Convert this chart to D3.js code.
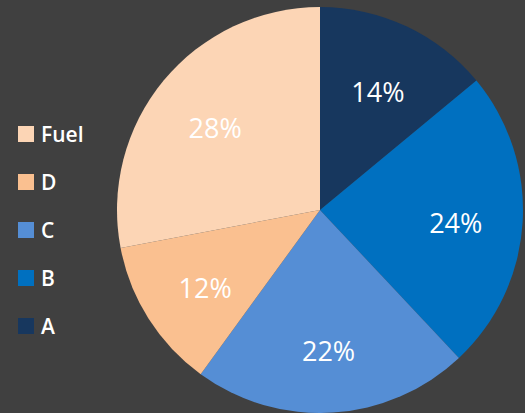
<!DOCTYPE html>
<html><head><meta charset="utf-8">
<script src="https://cdn.jsdelivr.net/npm/d3@7/dist/d3.min.js"></script>
<style>html,body{margin:0;padding:0;background:#404040;}svg{display:block;}</style>
</head><body>
<script>
const categories = ["A", "B", "C", "D", "Fuel"];
const values = [14, 24, 22, 12, 28];
const colors = ["#17375E", "#0070C0", "#558ED5", "#FAC090", "#FCD5B5"];
const legendOrder = ["Fuel", "D", "C", "B", "A"];

const W = 525, H = 413;
const svg = d3.select("body").append("svg").attr("width", W).attr("height", H);
svg.append("rect").attr("width", W).attr("height", H).attr("fill", "#404040");

const cx = 320, cy = 210, R = 203;
const color = d3.scaleOrdinal().domain(categories).range(colors);
const pie = d3.pie().sort(null).value(d => d.v);
const data = categories.map((c, i) => ({c, v: values[i]}));
const arcs = pie(data);
const arc = d3.arc().innerRadius(0).outerRadius(R);
const labelArc = d3.arc().innerRadius(R * 0.67).outerRadius(R * 0.67);

const g = svg.append("g").attr("transform", `translate(${cx},${cy})`);
g.selectAll("path").data(arcs).join("path")
  .attr("d", arc).attr("fill", d => color(d.data.c));
const total = d3.sum(values);
g.selectAll("text").data(arcs).join("text")
  .attr("transform", d => `translate(${labelArc.centroid(d)})`)
  .attr("text-anchor", "middle").attr("dy", "0.55em")
  .attr("fill", "#ffffff")
  .style("font-family", "'Open Sans', sans-serif").style("font-size", "27px")
  .text(d => Math.round(d.data.v / total * 100) + "%");

const y = d3.scalePoint().domain(legendOrder).range([134, 326]);
const lg = svg.append("g");
const items = lg.selectAll("g").data(legendOrder).join("g")
  .attr("transform", d => `translate(18,${y(d)})`);
items.append("rect").attr("x", 0).attr("y", -8).attr("width", 16).attr("height", 16)
  .attr("fill", d => color(d));
items.append("text").attr("x", 23).attr("dy", "0.36em").attr("fill", "#ffffff")
  .style("font-family", "'Open Sans', sans-serif").style("font-size", "21px").style("font-weight", 600)
  .text(d => d);
</script>
</body></html>
